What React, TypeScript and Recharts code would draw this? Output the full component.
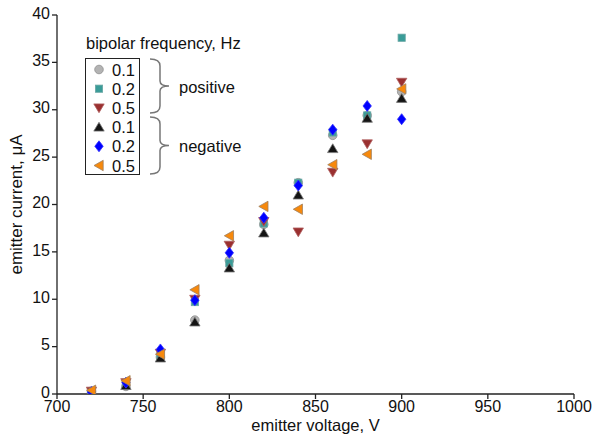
import { ScatterChart, Scatter, XAxis, YAxis } from 'recharts'

// emitter voltage, V
const voltages = [720, 740, 760, 780, 800, 820, 840, 860, 880, 900]

// emitter current, uA, per series
const pos01 = [0.3, 0.8, 3.9, 7.8, 14.1, 17.9, 22.3, 27.3, 29.4, 31.9]
const pos02 = [0.3, 1.2, 4.0, 9.7, 13.8, 18.0, 22.3, 27.6, 29.4, 37.6]
const pos05 = [0.3, 1.2, 4.3, 10.0, 15.7, 18.2, 17.1, 23.4, 26.4, 32.9]
const neg01 = [0.2, 0.9, 3.8, 7.6, 13.3, 17.0, 21.0, 25.9, 29.1, 31.2]
const neg02 = [0.2, 1.2, 4.7, 9.9, 14.9, 18.6, 22.0, 27.9, 30.4, 29.0]
const neg05 = [0.4, 1.4, 4.2, 11.0, 16.7, 19.8, 19.5, 24.2, 25.3, 32.2]

const xTicks = [700, 750, 800, 850, 900, 950, 1000]
const yTicks = [0, 5, 10, 15, 20, 25, 30, 35, 40]

const legendLabels = ['0.1', '0.2', '0.5', '0.1', '0.2', '0.5']

const toPoints = (ys: number[]) => voltages.map((v, i) => ({ v, i: ys[i] }))

type Kind = 'circle' | 'square' | 'down' | 'up' | 'diamond' | 'left'

const series: { key: string; ys: number[]; kind: Kind; fill: string; stroke: string }[] = [
  { key: 'p01', ys: pos01, kind: 'circle', fill: '#b3b3b3', stroke: '#8f8f8f' },
  { key: 'p02', ys: pos02, kind: 'square', fill: '#3a9c98', stroke: '#6aa7a4' },
  { key: 'p05', ys: pos05, kind: 'down', fill: '#9a3030', stroke: '#b06060' },
  { key: 'n01', ys: neg01, kind: 'up', fill: '#141414', stroke: '#777' },
  { key: 'n02', ys: neg02, kind: 'diamond', fill: '#0000ff', stroke: '#3030ff' },
  { key: 'n05', ys: neg05, kind: 'left', fill: '#f7890c', stroke: '#a08060' },
]

function Marker({ kind, cx, cy, fill, stroke }: { kind: Kind; cx: number; cy: number; fill: string; stroke: string }) {
  const sw = 0.8
  switch (kind) {
    case 'circle':
      return <circle cx={cx} cy={cy} r={4.3} fill={fill} stroke={stroke} strokeWidth={sw} />
    case 'square':
      return <rect x={cx - 3.6} y={cy - 3.6} width={7.2} height={7.2} fill={fill} stroke={stroke} strokeWidth={sw} />
    case 'down':
      return <polygon points={`${cx - 5.2},${cy - 4} ${cx + 5.2},${cy - 4} ${cx},${cy + 4.8}`} fill={fill} stroke={stroke} strokeWidth={sw} />
    case 'up':
      return <polygon points={`${cx - 5.2},${cy + 4} ${cx + 5.2},${cy + 4} ${cx},${cy - 4.8}`} fill={fill} stroke={stroke} strokeWidth={sw} />
    case 'diamond':
      return <polygon points={`${cx},${cy - 5.5} ${cx + 4.2},${cy} ${cx},${cy + 5.5} ${cx - 4.2},${cy}`} fill={fill} stroke={stroke} strokeWidth={sw} />
    case 'left':
      return <polygon points={`${cx - 5},${cy} ${cx + 4.2},${cy - 5.2} ${cx + 4.2},${cy + 5.2}`} fill={fill} stroke={stroke} strokeWidth={sw} />
  }
}

function brace(x0: number, y0: number, y1: number) {
  const ym = (y0 + y1) / 2
  const xs = x0 + 10
  return `M ${x0} ${y0} Q ${xs} ${y0} ${xs} ${y0 + 7} L ${xs} ${ym - 5} Q ${xs} ${ym} ${x0 + 19} ${ym} Q ${xs} ${ym} ${xs} ${ym + 5} L ${xs} ${y1 - 7} Q ${xs} ${y1} ${x0} ${y1}`
}

const font = '"Liberation Sans", Arial, sans-serif'
const axisColor = '#222'
const tickStyle = { fontSize: 16, fill: '#111', fontFamily: font }

export default function App() {
  return (
    <div style={{ position: 'absolute', left: 0, top: 0, width: 595, height: 434, background: '#fff', fontFamily: font }}>
      <ScatterChart width={595} height={434} margin={{ top: 15, right: 21, left: 0, bottom: 0 }}>
        <XAxis
          dataKey="v"
          type="number"
          xAxisId="b"
          domain={[700, 1000]}
          ticks={xTicks}
          tickSize={5}
          height={40}
          tick={{ ...tickStyle, dy: 0 }}
          stroke={axisColor}
          strokeWidth={1.3}
          tickLine={{ stroke: axisColor }}
          allowDataOverflow
          label={{ value: 'emitter voltage, V', position: 'insideBottom', offset: 3, style: { fontSize: 16.5, fill: '#111', fontFamily: font } }}
        />
        <XAxis
          dataKey="v"
          type="number"
          xAxisId="t"
          orientation="top"
          mirror
          domain={[700, 1000]}
          ticks={xTicks}
          tickSize={5}
          height={0}
          tickFormatter={() => ''}
          stroke={axisColor}
          strokeWidth={1.3}
          allowDataOverflow
        />
        <YAxis
          dataKey="i"
          type="number"
          yAxisId="l"
          domain={[0, 40]}
          ticks={yTicks}
          tickSize={5}
          width={57}
          tick={{ ...tickStyle, dy: -2 }}
          stroke={axisColor}
          strokeWidth={1.3}
          allowDataOverflow
          label={{ value: 'emitter current, μA', angle: -90, position: 'insideLeft', offset: 16, style: { textAnchor: 'middle', fontSize: 17, fill: '#111', fontFamily: font } }}
        />
        <YAxis
          dataKey="i"
          type="number"
          yAxisId="r"
          orientation="right"
          mirror
          domain={[0, 40]}
          ticks={yTicks}
          tickSize={5}
          width={0}
          tickFormatter={() => ''}
          stroke={axisColor}
          strokeWidth={1.3}
          allowDataOverflow
        />
        {series.map(s => (
          <Scatter
            key={s.key}
            xAxisId="b"
            yAxisId="l"
            data={toPoints(s.ys)}
            isAnimationActive={false}
            shape={(p: any) => <Marker kind={s.kind} cx={p.cx} cy={p.cy} fill={s.fill} stroke={s.stroke} />}
          />
        ))}
      </ScatterChart>

      <div style={{ position: 'absolute', left: 86, top: 34, fontSize: 16.5, color: '#111', whiteSpace: 'nowrap' }}>
        bipolar frequency, Hz
      </div>
      <div style={{ position: 'absolute', left: 85, top: 58, width: 53, height: 115, border: '1.5px solid #222', background: '#fff' }} />
      <svg width={595} height={434} style={{ position: 'absolute', left: 0, top: 0, pointerEvents: 'none' }}>
        {series.map((s, k) => (
          <g key={s.key}>
            <Marker kind={s.kind} cx={99} cy={69.5 + k * 19.2} fill={s.fill} stroke={s.stroke} />
            <text x={112} y={75.5 + k * 19.2} fontSize={16.5} fill="#111" fontFamily={font}>
              {legendLabels[k]}
            </text>
          </g>
        ))}
        <path d={brace(150, 59, 113)} fill="none" stroke="#777" strokeWidth={1.5} />
        <path d={brace(150, 117, 174)} fill="none" stroke="#777" strokeWidth={1.5} />
        <text x={179} y={92.5} fontSize={16.5} fill="#111" fontFamily={font}>positive</text>
        <text x={179} y={151.5} fontSize={16.5} fill="#111" fontFamily={font}>negative</text>
      </svg>
    </div>
  )
}
